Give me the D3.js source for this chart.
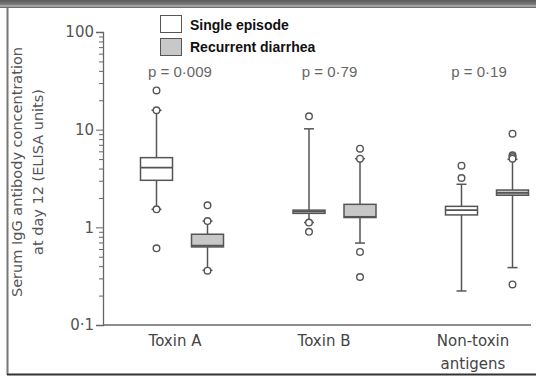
<!DOCTYPE html>
<html>
<head>
<meta charset="utf-8">
<script src="https://cdn.jsdelivr.net/npm/d3@7"></script>
<style>
    body { margin: 0; background: #fff; }
    svg { display: block; }
</style>
</head>
<body>
<div class="chart"></div>
<script>
// ==================================
// data

var categories = ["Toxin A", "Toxin B", "Non-toxin antigens"];
var series = ["Single episode", "Recurrent diarrhea"];
var pValues = ["p = 0\u00b7009", "p = 0\u00b779", "p = 0\u00b719"];
var yTicks = [0.1, 1, 10, 100];
var yTickLabels = ["0\u00b71", "1", "10", "100"];

// [low whisker, q1, median, q3, high whisker]
var singleBoxes = [
    [1.53, 3.03, 4.08, 5.17, 15.8],
    [1.12, 1.39, 1.45, 1.50, 10.2],
    [0.223, 1.34, 1.50, 1.64, 2.76]
];
var recurrentBoxes = [
    [0.363, 0.63, 0.65, 0.85, 1.16],
    [0.69, 1.26, 1.28, 1.72, 5.05],
    [0.387, 2.13, 2.25, 2.41, 4.97]
];
var singleOutliers = [
    [25.2, 15.8, 1.53, 0.61],
    [13.7, 1.12, 0.90],
    [4.28, 3.2]
];
var recurrentOutliers = [
    [1.68, 1.16, 0.36],
    [6.39, 5.05, 0.56, 0.31],
    [9.1, 5.46, 5.25, 5.05, 0.26]
];

// ==================================

var w = 536;
var h = 376;
var lineColor = "#555";
var textColor = "#555";
var mainFont = "'DejaVu Sans', Verdana, sans-serif";

var svg = d3.select(".chart")
    .append("svg")
    .attr("width", w)
    .attr("height", h);

// frame round the figure
var grad = svg.append("defs").append("linearGradient")
    .attr("id", "topband")
    .attr("x1", 0).attr("y1", 0).attr("x2", 0).attr("y2", 1);
grad.append("stop").attr("offset", "0%").attr("stop-color", "#5a5a5a");
grad.append("stop").attr("offset", "55%").attr("stop-color", "#7a7a7a");
grad.append("stop").attr("offset", "75%").attr("stop-color", "#b8b8b8");
grad.append("stop").attr("offset", "100%").attr("stop-color", "#555");

svg.append("rect")
    .attr("x", 0).attr("y", 0)
    .attr("width", w).attr("height", 8)
    .attr("fill", "url(#topband)");
svg.append("line")
    .attr("x1", 7.5).attr("x2", 7.5)
    .attr("y1", 8).attr("y2", 375)
    .attr("stroke", "#777").attr("stroke-width", 2);
svg.append("line")
    .attr("x1", 7).attr("x2", w)
    .attr("y1", 374.5).attr("y2", 374.5)
    .attr("stroke", "#333").attr("stroke-width", 2);

var y = d3.scaleLog()
    .domain([0.1, 100])
    .range([325, 32]);

var x = d3.scalePoint()
    .domain(categories)
    .range([182, 487]);

var offset = d3.scalePoint()
    .domain(series)
    .range([-25.5, 25.5]);

var boxWidth = 32;
var capWidth = 10;

// y axis with minor ticks
var minor = [];
for (var d = 0; d < 3; d++) {
    for (var m = 2; m <= 9; m++) {
        minor.push(m * Math.pow(10, d - 1));
    }
}

var yAxisMinor = d3.axisLeft(y)
    .tickValues(minor)
    .tickSize(4)
    .tickFormat("");

var yAxis = d3.axisLeft(y)
    .tickValues(yTicks)
    .tickSize(7)
    .tickPadding(2)
    .tickFormat(function(v, i) {
        return yTickLabels[i];
    });

var gMinor = svg.append("g")
    .attr("transform", "translate(103,0)")
    .call(yAxisMinor);
gMinor.select(".domain").remove();
gMinor.selectAll("line").attr("stroke", "#666");

var gy = svg.append("g")
    .attr("transform", "translate(103,0)")
    .call(yAxis);
gy.select(".domain").attr("stroke", "#666").attr("stroke-width", 1.3);
gy.selectAll("line").attr("stroke", "#666");
gy.selectAll("text")
    .attr("fill", textColor)
    .style("font-family", mainFont)
    .style("font-size", "15px");

// x axis line
svg.append("line")
    .attr("x1", 103).attr("x2", 531)
    .attr("y1", y(0.1)).attr("y2", y(0.1))
    .attr("stroke", "#666").attr("stroke-width", 1.3);

// y title
var yTitle = svg.append("text")
    .attr("transform", "translate(22,172) rotate(-90)")
    .attr("text-anchor", "middle")
    .attr("fill", textColor)
    .style("font-family", mainFont)
    .style("font-size", "14.5px");
yTitle.append("tspan").attr("x", 0).attr("dy", 0).text("Serum IgG antibody concentration");
yTitle.append("tspan").attr("x", 0).attr("dy", 21).text("at day 12 (ELISA units)");

// category labels
svg.selectAll(".cat")
    .data(categories)
    .enter()
    .append("text")
    .attr("class", "cat")
    .attr("text-anchor", "middle")
    .attr("fill", "#444")
    .style("font-family", mainFont)
    .style("font-size", "15px")
    .each(function(c, i) {
        var t = d3.select(this);
        var cx = x(c) - 7 - 3.5 * i;
        if (c === "Non-toxin antigens") {
            t.append("tspan").attr("x", cx).attr("y", 346).text("Non-toxin");
            t.append("tspan").attr("x", cx).attr("y", 369).text("antigens");
        } else {
            t.append("tspan").attr("x", cx).attr("y", 346).text(c);
        }
    });

// p values
svg.selectAll(".pval")
    .data(pValues)
    .enter()
    .append("text")
    .attr("class", "pval")
    .attr("x", function(p, i) {
        return x(categories[i]) - 2 - 3 * i;
    })
    .attr("y", 77)
    .attr("text-anchor", "middle")
    .attr("fill", "#666")
    .style("font-family", "'Liberation Sans', Arial, sans-serif")
    .style("font-size", "15px")
    .text(function(p) { return p; });

// boxes
var drawBoxes = function(boxes, outliers, name, fill) {
    var g = svg.append("g");

    boxes.forEach(function(b, i) {
        var cx = x(categories[i]) + offset(name);

        // whisker
        g.append("line")
            .attr("x1", cx).attr("x2", cx)
            .attr("y1", y(b[0])).attr("y2", y(b[4]))
            .attr("stroke", lineColor).attr("stroke-width", 1.5);
        // caps
        [b[0], b[4]].forEach(function(v) {
            g.append("line")
                .attr("x1", cx - capWidth / 2).attr("x2", cx + capWidth / 2)
                .attr("y1", y(v)).attr("y2", y(v))
                .attr("stroke", lineColor).attr("stroke-width", 1.5);
        });
        // box
        g.append("rect")
            .attr("x", cx - boxWidth / 2)
            .attr("y", y(b[3]))
            .attr("width", boxWidth)
            .attr("height", Math.max(y(b[1]) - y(b[3]), 1))
            .attr("fill", fill)
            .attr("stroke", lineColor)
            .attr("stroke-width", 1.5);
        // median
        g.append("line")
            .attr("x1", cx - boxWidth / 2).attr("x2", cx + boxWidth / 2)
            .attr("y1", y(b[2])).attr("y2", y(b[2]))
            .attr("stroke", lineColor).attr("stroke-width", 1.8);

        // outliers
        g.selectAll(".out" + i)
            .data(outliers[i])
            .enter()
            .append("circle")
            .attr("cx", cx)
            .attr("cy", function(v) { return y(v); })
            .attr("r", 3.3)
            .attr("fill", "#fff")
            .attr("stroke", lineColor)
            .attr("stroke-width", 1.4);
    });
};

drawBoxes(singleBoxes, singleOutliers, series[0], "#fff");
drawBoxes(recurrentBoxes, recurrentOutliers, series[1], "#c8c8c8");

// legend
var legend = svg.append("g");
var legendFills = ["#fff", "#c8c8c8"];
series.forEach(function(s, i) {
    legend.append("rect")
        .attr("x", 160.5)
        .attr("y", 15.5 + i * 23)
        .attr("width", 21)
        .attr("height", 17)
        .attr("fill", legendFills[i])
        .attr("stroke", "#555")
        .attr("stroke-width", 1);
    legend.append("text")
        .attr("x", 190)
        .attr("y", 30 + i * 22)
        .attr("fill", "#111")
        .style("font-family", "'Liberation Sans', Arial, sans-serif")
        .style("font-weight", "bold")
        .style("font-size", "14px")
        .text(s);
});
</script>
</body>
</html>
